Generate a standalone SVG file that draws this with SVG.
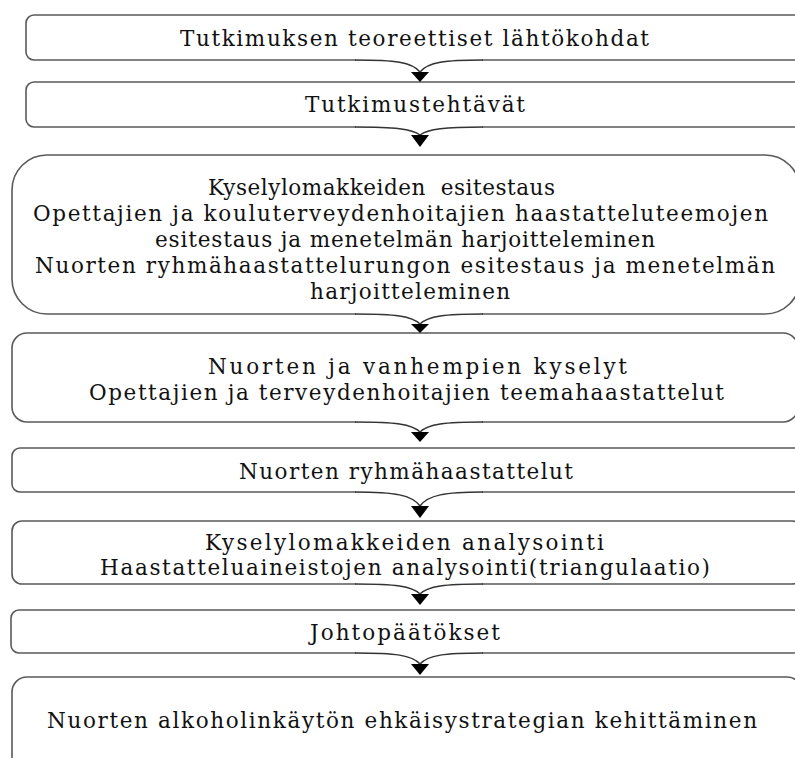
<svg xmlns="http://www.w3.org/2000/svg" width="795" height="758" viewBox="0 0 795 758">
  <style>
    .box { fill: #ffffff; stroke: #5a5a5a; stroke-width: 1.6; }
    .lbl { font-family: "DejaVu Serif", "Liberation Serif", serif; font-size: 21.5px; fill: #111111; white-space: pre; }
    .cover { fill: #ffffff; stroke: none; }
    .brace { fill: none; stroke: #333333; stroke-width: 1.5; }
    .head { fill: #000000; stroke: none; }
  </style>
  <rect x="0" y="0" width="795" height="758" fill="#ffffff"/>

  <g id="n1">
    <rect class="box" x="26" y="15" width="800" height="45" rx="8"/>
    <text class="lbl" x="180" y="46" textLength="469" lengthAdjust="spacing">Tutkimuksen teoreettiset lähtökohdat</text>
  </g>

  <g id="n2">
    <rect class="box" x="26" y="82" width="800" height="45" rx="8"/>
    <text class="lbl" x="305" y="112" textLength="220" lengthAdjust="spacing">Tutkimustehtävät</text>
  </g>

  <g id="n3">
    <rect class="box" x="12" y="155" width="788" height="159" rx="35"/>
    <text class="lbl" x="208" y="195" textLength="347" lengthAdjust="spacing" xml:space="preserve">Kyselylomakkeiden  esitestaus</text>
    <text class="lbl" x="33" y="221" textLength="735" lengthAdjust="spacing">Opettajien ja kouluterveydenhoitajien haastatteluteemojen</text>
    <text class="lbl" x="155" y="247" textLength="500" lengthAdjust="spacing">esitestaus ja menetelmän harjoitteleminen</text>
    <text class="lbl" x="35" y="273" textLength="740" lengthAdjust="spacing">Nuorten ryhmähaastattelurungon esitestaus ja menetelmän</text>
    <text class="lbl" x="310" y="299" textLength="200" lengthAdjust="spacing">harjoitteleminen</text>
  </g>

  <g id="n4">
    <rect class="box" x="12" y="333" width="786" height="89" rx="15"/>
    <text class="lbl" x="208" y="374" textLength="419" lengthAdjust="spacing">Nuorten ja vanhempien kyselyt</text>
    <text class="lbl" x="89" y="400" textLength="635" lengthAdjust="spacing">Opettajien ja terveydenhoitajien teemahaastattelut</text>
  </g>

  <g id="n5">
    <rect class="box" x="12" y="448" width="790" height="44" rx="8"/>
    <text class="lbl" x="239" y="479" textLength="334" lengthAdjust="spacing">Nuorten ryhmähaastattelut</text>
  </g>

  <g id="n6">
    <rect class="box" x="12" y="521" width="790" height="63" rx="10"/>
    <text class="lbl" x="205" y="550" textLength="399" lengthAdjust="spacing">Kyselylomakkeiden analysointi</text>
    <text class="lbl" x="100" y="575" textLength="610" lengthAdjust="spacing">Haastatteluaineistojen analysointi(triangulaatio)</text>
  </g>

  <g id="n7">
    <rect class="box" x="11" y="610" width="790" height="43" rx="8"/>
    <text class="lbl" x="310" y="640" textLength="190" lengthAdjust="spacing">Johtopäätökset</text>
  </g>

  <g id="n8">
    <rect class="box" x="12" y="677" width="790" height="100" rx="15"/>
    <text class="lbl" x="47" y="728" textLength="710" lengthAdjust="spacing">Nuorten alkoholinkäytön ehkäisystrategian kehittäminen</text>
  </g>

  <!-- brace-shaped connectors: the box's bottom edge dips into an arrow -->
  <g id="connectors">
    <g>
      <path class="cover" d="M356,58.5 H482 V61 C445,61 428,62 420,72 C412,62 395,61 356,61 Z"/>
      <path class="brace" d="M355,60 C395,60 412,62 420,72 C428,62 445,60 483,60"/>
      <polygon class="head" points="411,72 429,72 420,82"/>
    </g>
    <g>
      <path class="cover" d="M356,125.5 H482 V128 C445,128 428,129 420,135 C412,129 395,128 356,128 Z"/>
      <path class="brace" d="M355,127 C395,127 412,129 420,135 C428,129 445,127 483,127"/>
      <polygon class="head" points="411,135 429,135 420,147"/>
    </g>
    <g>
      <path class="cover" d="M356,312.5 H482 V315 C445,315 428,316 420,324 C412,316 395,315 356,315 Z"/>
      <path class="brace" d="M355,314 C395,314 412,316 420,324 C428,316 445,314 483,314"/>
      <polygon class="head" points="411,324 429,324 420,333"/>
    </g>
    <g>
      <path class="cover" d="M356,420.5 H482 V423 C445,423 428,424 420,432 C412,424 395,423 356,423 Z"/>
      <path class="brace" d="M355,422 C395,422 412,424 420,432 C428,424 445,422 483,422"/>
      <polygon class="head" points="411,432 429,432 420,442"/>
    </g>
    <g>
      <path class="cover" d="M356,490.5 H482 V493 C445,493 428,495 420,506 C412,495 395,493 356,493 Z"/>
      <path class="brace" d="M355,492 C395,492 412,495 420,506 C428,495 445,492 483,492"/>
      <polygon class="head" points="411,506 429,506 420,518"/>
    </g>
    <g>
      <path class="cover" d="M356,582.5 H482 V585 C445,585 428,586 420,594 C412,586 395,585 356,585 Z"/>
      <path class="brace" d="M355,584 C395,584 412,586 420,594 C428,586 445,584 483,584"/>
      <polygon class="head" points="411,594 429,594 420,605"/>
    </g>
    <g>
      <path class="cover" d="M356,651.5 H482 V654 C445,654 428,655 420,664 C412,655 395,654 356,654 Z"/>
      <path class="brace" d="M355,653 C395,653 412,655 420,664 C428,655 445,653 483,653"/>
      <polygon class="head" points="411,664 429,664 420,675"/>
    </g>
  </g>
</svg>
